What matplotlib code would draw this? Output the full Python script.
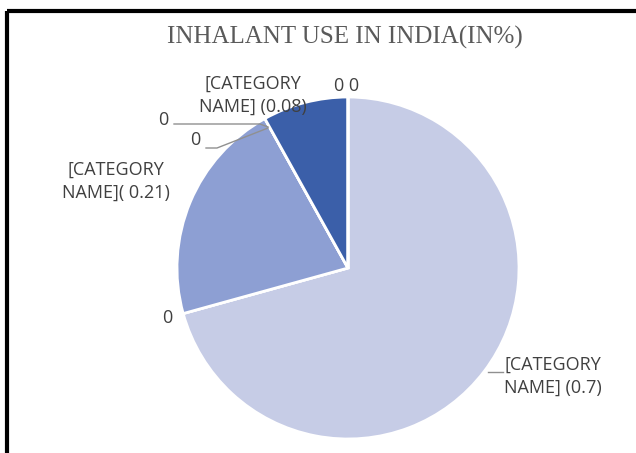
import matplotlib
matplotlib.use("Agg")
import matplotlib.pyplot as plt

# Data
values = [0.7, 0, 0.21, 0, 0, 0.08, 0, 0]
labels = ["[CATEGORY\nNAME] (0.7)", "0", "[CATEGORY\nNAME]( 0.21)", "0", "0",
          "[CATEGORY\nNAME] (0.08)", "0", "0"]
colors = ["#c6cce6", "#c6cce6", "#8d9fd3", "#8d9fd3", "#8d9fd3", "#3b5fa9", "#3b5fa9", "#3b5fa9"]
title = "INHALANT USE IN INDIA(IN%)"

W, H = 636, 453
fig = plt.figure(figsize=(W / 100, H / 100), dpi=100)
ax = fig.add_axes([0, 0, 1, 1])

cx, cy, r = 348, H - 268, 171
ax.pie(values, colors=colors, startangle=90, counterclock=False,
       center=(cx, cy), radius=r, frame=True,
       wedgeprops=dict(edgecolor="white", linewidth=2))
ax.set_xlim(0, W)
ax.set_ylim(0, H)
ax.set_aspect("equal")
ax.axis("off")

# frame lines (top and left)
ax.plot([7, W], [H - 11, H - 11], color="black", lw=3, solid_capstyle="butt")
ax.plot([7, 7], [0, H - 11], color="black", lw=3, solid_capstyle="butt")

ax.text(345, H - 37, title, ha="center", va="center", fontsize=18,
        family="Liberation Serif", color="#5a5a5a")

lab_font = dict(family="Open Sans", fontsize=13, color="#404040", linespacing=1.35)

def y(p):
    return H - p

line_kw = dict(color="#909090", lw=1)
# 0.7 label
ax.text(504, y(376), labels[0], ha="left", va="center", **lab_font)
ax.plot([488, 503], [y(372), y(372)], **line_kw)
# zero after 0.7
ax.text(167, y(318), labels[1], ha="center", va="center", **lab_font)
# 0.21 label
ax.text(116, y(181), labels[2], ha="center", va="center", multialignment="center", **lab_font)
# zeros near the boundary of 0.21 and 0.08
ax.text(163, y(120), labels[3], ha="center", va="center", **lab_font)
ax.plot([174, 260, 268], [y(124), y(124), y(127)], **line_kw)
ax.text(195, y(140), labels[4], ha="center", va="center", **lab_font)
ax.plot([206, 217, 268], [y(148), y(148), y(128)], **line_kw)
# 0.08 label
ax.text(253, y(95), labels[5], ha="center", va="center", multialignment="center", **lab_font)
# trailing zeros
ax.text(347, y(86), labels[6] + " " + labels[7], ha="center", va="center", **lab_font)

fig.savefig("out.png", dpi=100)
